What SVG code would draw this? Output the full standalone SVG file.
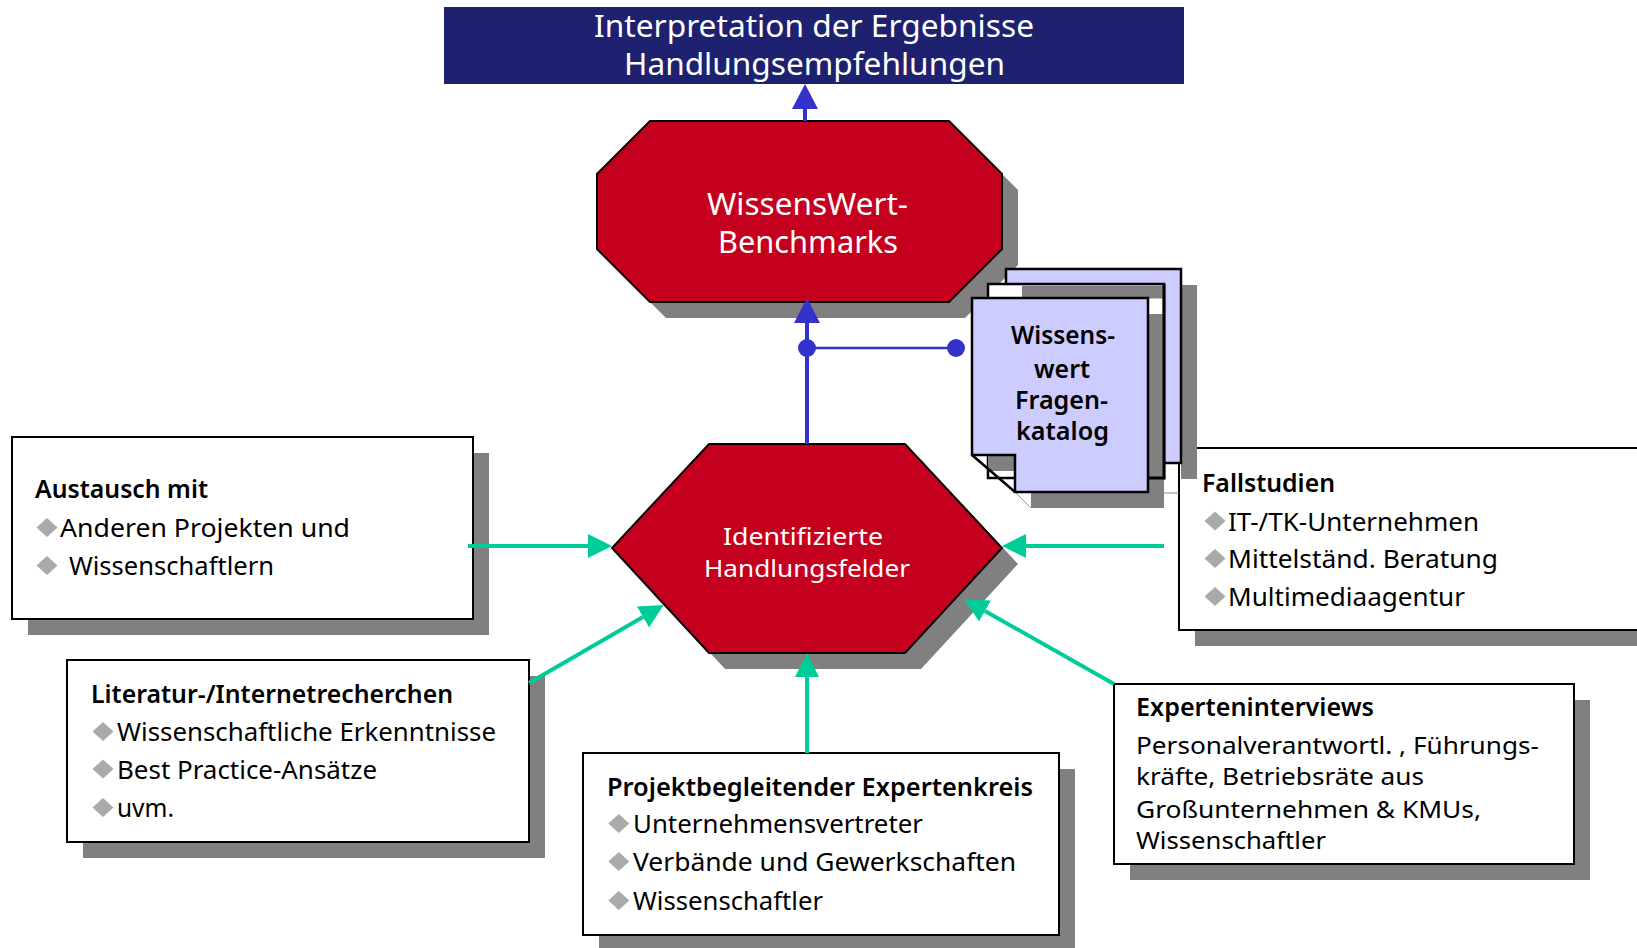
<svg xmlns="http://www.w3.org/2000/svg" xmlns:xlink="http://www.w3.org/1999/xlink" width="1637" height="948" viewBox="0 0 1637 948">
<style>
text { font-family: "Noto Sans", "DejaVu Sans", sans-serif; }
.body { font-size: 26px; fill: #000; }
.body2 { font-size: 23.5px; fill: #000; }
.title { font-size: 25px; font-weight: 600; fill: #000; }
.wt { fill: #fff; }
.box { fill: #fff; stroke: #000; stroke-width: 2; }
.shadow { fill: #808080; }
.bullet { fill: #AAAAAA; }
.page { fill: #CCCCFF; stroke: #000; stroke-width: 2.5; }
.red { fill: #C4001E; stroke: #000; stroke-width: 2; }
.green { stroke: #00CC99; stroke-width: 4; fill: none; }
.blue { stroke: #3333CC; stroke-width: 4; fill: none; }
</style>
<defs>
<polygon id="dia" points="0,-9.5 10.5,0 0,9.5 -10.5,0"/>
<marker id="ag" viewBox="0 0 24 24" refX="0" refY="12" markerWidth="24" markerHeight="24" markerUnits="userSpaceOnUse" orient="auto">
<path d="M0,0 L24,12 L0,24 Z" fill="#00CC99"/>
</marker>
<marker id="ab" viewBox="0 0 25 26" refX="0" refY="13" markerWidth="25" markerHeight="26" markerUnits="userSpaceOnUse" orient="auto">
<path d="M0,0 L25,13 L0,26 Z" fill="#3333CC"/>
</marker>
</defs>
<rect width="1637" height="948" fill="#fff"/>

<g id="austausch">
<rect class="shadow" x="28" y="453" width="461" height="182"/>
<rect class="box" x="12" y="437" width="461" height="182"/>
<text class="title" x="35" y="497.5" textLength="173" lengthAdjust="spacingAndGlyphs">Austausch mit</text>
<use xlink:href="#dia" class="bullet" x="47" y="527.5"/>
<text class="body" x="60" y="537" textLength="290" lengthAdjust="spacingAndGlyphs">Anderen Projekten und</text>
<use xlink:href="#dia" class="bullet" x="47" y="565.5"/>
<text class="body" x="69" y="575" textLength="205" lengthAdjust="spacingAndGlyphs">Wissenschaftlern</text>
</g>

<g id="literatur">
<rect class="shadow" x="83" y="676" width="462" height="182"/>
<rect class="box" x="67" y="660" width="462" height="182"/>
<text class="title" x="91" y="702.7" textLength="362" lengthAdjust="spacingAndGlyphs">Literatur-/Internetrecherchen</text>
<use xlink:href="#dia" class="bullet" x="103" y="731.5"/>
<text class="body" x="117" y="741" textLength="379" lengthAdjust="spacingAndGlyphs">Wissenschaftliche Erkenntnisse</text>
<use xlink:href="#dia" class="bullet" x="103" y="769"/>
<text class="body" x="117" y="778.5" textLength="260" lengthAdjust="spacingAndGlyphs">Best Practice-Ansätze</text>
<use xlink:href="#dia" class="bullet" x="103" y="807.5"/>
<text class="body" x="117" y="817" textLength="57" lengthAdjust="spacingAndGlyphs">uvm.</text>
</g>

<g id="projektkreis">
<rect class="shadow" x="599" y="769" width="476" height="182"/>
<rect class="box" x="583" y="753" width="476" height="182"/>
<text class="title" x="607" y="795.7" textLength="426" lengthAdjust="spacingAndGlyphs">Projektbegleitender Expertenkreis</text>
<use xlink:href="#dia" class="bullet" x="618.8" y="823.5"/>
<text class="body" x="633" y="833" textLength="290" lengthAdjust="spacingAndGlyphs">Unternehmensvertreter</text>
<use xlink:href="#dia" class="bullet" x="618.8" y="861.5"/>
<text class="body" x="633" y="871" textLength="383" lengthAdjust="spacingAndGlyphs">Verbände und Gewerkschaften</text>
<use xlink:href="#dia" class="bullet" x="618.8" y="900.5"/>
<text class="body" x="633" y="910" textLength="190" lengthAdjust="spacingAndGlyphs">Wissenschaftler</text>
</g>

<g id="experteninterviews">
<rect class="shadow" x="1130" y="700" width="460" height="180"/>
<rect class="box" x="1114" y="684" width="460" height="180"/>
<text class="title" x="1136" y="715.7" textLength="238" lengthAdjust="spacingAndGlyphs">Experteninterviews</text>
<text class="body2" x="1136" y="753.5" textLength="403" lengthAdjust="spacingAndGlyphs">Personalverantwortl. , Führungs-</text>
<text class="body2" x="1136" y="785" textLength="288" lengthAdjust="spacingAndGlyphs">kräfte, Betriebsräte aus</text>
<text class="body2" x="1136" y="818" textLength="345" lengthAdjust="spacingAndGlyphs">Großunternehmen &amp; KMUs,</text>
<text class="body2" x="1136" y="849" textLength="190" lengthAdjust="spacingAndGlyphs">Wissenschaftler</text>
</g>

<g id="fallstudien">
<rect class="shadow" x="1195" y="464" width="500" height="182"/>
<rect class="box" x="1179" y="448" width="500" height="182"/>
<text class="title" x="1202" y="492" textLength="133" lengthAdjust="spacingAndGlyphs">Fallstudien</text>
<use xlink:href="#dia" class="bullet" x="1215" y="521"/>
<text class="body" x="1228" y="530.5" textLength="251" lengthAdjust="spacingAndGlyphs">IT-/TK-Unternehmen</text>
<use xlink:href="#dia" class="bullet" x="1215" y="558.5"/>
<text class="body" x="1228" y="568" textLength="270" lengthAdjust="spacingAndGlyphs">Mittelständ. Beratung</text>
<use xlink:href="#dia" class="bullet" x="1215" y="596.5"/>
<text class="body" x="1228" y="606" textLength="237" lengthAdjust="spacingAndGlyphs">Multimediaagentur</text>
</g>

<g id="benchmarks">
<polygon class="shadow" points="666,137 965,137 1018,190 1018,265 965,318 666,318 613,265 613,190"/>
<polygon class="red" points="650,121 949,121 1002,174 1002,249 949,302 650,302 597,249 597,174"/>
<text class="wt" x="707" y="215" style="font-size:31px" textLength="201" lengthAdjust="spacingAndGlyphs">WissensWert-</text>
<text class="wt" x="718" y="253" style="font-size:31px" textLength="180" lengthAdjust="spacingAndGlyphs">Benchmarks</text>
</g>

<g id="handlungsfelder">
<polygon class="shadow" points="725,460 921,460 1018,564 921,669 725,669 628,564"/>
<polygon class="red" points="709,444 905,444 1002,548 905,653 709,653 612,548"/>
<text class="wt" x="723" y="545" style="font-size:23.5px" textLength="160" lengthAdjust="spacingAndGlyphs">Identifizierte</text>
<text class="wt" x="704" y="577" style="font-size:23.5px" textLength="206" lengthAdjust="spacingAndGlyphs">Handlungsfelder</text>
</g>

<g id="fragenkatalog">
<rect class="shadow" x="1181" y="285" width="16" height="194"/>
<rect class="page" x="1006" y="269" width="175" height="194" stroke-width="2"/>
<rect x="988" y="284" width="176" height="194" fill="#fff" stroke="#000" stroke-width="2.5"/>
<rect class="shadow" x="1022" y="285.5" width="141" height="13"/>
<path class="shadow" d="M988,314 H1164 V508 H1031 V471 H988 Z"/>
<path d="M1164,284 V478 H1148" fill="none" stroke="#000" stroke-width="3"/>
<line x1="1164" y1="493" x2="1179" y2="493" stroke="#888" stroke-width="1"/>
<line x1="1015" y1="492" x2="1031" y2="508" stroke="#999" stroke-width="1"/>
<path class="page" d="M972,298 H1148 V492 H1015 V455 H972 Z"/>
<line x1="972" y1="455" x2="1015" y2="492" stroke="#000" stroke-width="2.5"/>
<text class="title" x="1011" y="344" textLength="104" lengthAdjust="spacingAndGlyphs">Wissens-</text>
<text class="title" x="1034" y="377.5" textLength="56" lengthAdjust="spacingAndGlyphs">wert</text>
<text class="title" x="1015" y="409" textLength="93" lengthAdjust="spacingAndGlyphs">Fragen-</text>
<text class="title" x="1016" y="440" textLength="93" lengthAdjust="spacingAndGlyphs">katalog</text>
</g>

<g id="interpretation">
<rect x="444" y="7" width="740" height="77" fill="#1E2170"/>
<text class="wt" x="594" y="37" style="font-size:31px" textLength="440" lengthAdjust="spacingAndGlyphs">Interpretation der Ergebnisse</text>
<text class="wt" x="624" y="75" style="font-size:31px" textLength="381" lengthAdjust="spacingAndGlyphs">Handlungsempfehlungen</text>
</g>

<g id="connectors">
<path class="green" d="M468,546 L588,546" marker-end="url(#ag)"/>
<path class="green" d="M529,683 L643,617" marker-end="url(#ag)"/>
<path class="green" d="M807,753 L807,677" marker-end="url(#ag)"/>
<path class="green" d="M1164,546 L1026,546" marker-end="url(#ag)"/>
<path class="green" d="M1114,684 L985,611" marker-end="url(#ag)"/>
<path class="blue" d="M805,121 L805,109" marker-end="url(#ab)"/>
<path class="blue" d="M807,444 L807,323" marker-end="url(#ab)"/>
<path d="M807,348 L956,348" stroke="#3333CC" stroke-width="2.5" fill="none"/>
<circle cx="807" cy="348" r="9" fill="#3333CC"/>
<circle cx="956" cy="348" r="9" fill="#3333CC"/>
</g>
</svg>
